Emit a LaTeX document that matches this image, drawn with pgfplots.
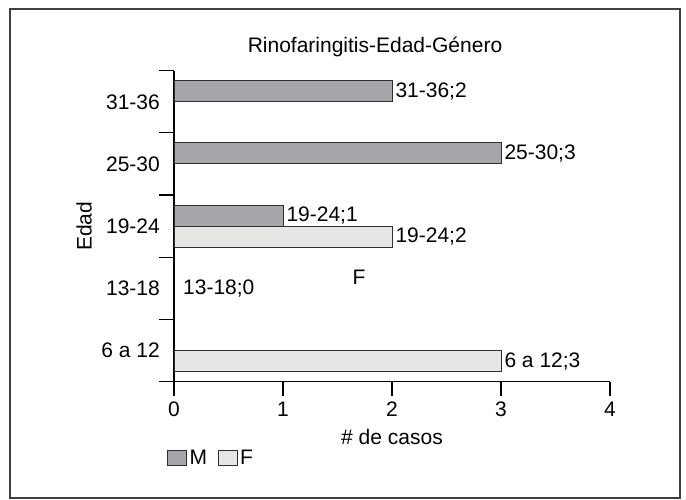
\documentclass[border=0pt]{standalone}
\usepackage{pgfplots}
\pgfplotsset{compat=1.18}
\usepackage{fontspec}
\setmainfont{Liberation Sans}
\definecolor{mcol}{HTML}{A6A7AB}
\definecolor{fcol}{HTML}{E6E7E5}
\definecolor{edge}{HTML}{2E2E2E}
\begin{document}
\begin{tikzpicture}[x=1pt,y=1pt,font=\fontsize{21}{25}\selectfont]
\useasboundingbox (0,0) rectangle (686,500);
\draw[line width=2pt, color=black!75] (10,1.5) rectangle (680,491);
\begin{axis}[
  at={(174pt,118.3pt)}, anchor=south west,
  width=436pt, height=311pt, scale only axis,
  clip=false,
  xbar, bar width=21pt,
  xmin=0, xmax=4, ymin=-0.5, ymax=4.5,
  axis x line*=bottom, axis y line*=left,
  axis line style={line width=1.2pt, black},
  /pgf/number format/assume math mode=true,
  xtick={0,1,2,3,4},
  ytick={0,1,2,3,4},
  yticklabels={6 a 12,13-18,19-24,25-30,31-36},
  minor ytick={-0.5,0.5,1.5,2.5,3.5,4.5},
  tick align=outside,
  major tick length=14pt,
  minor tick length=15pt,
  every tick/.style={line width=1.2pt, black},
  major y tick style={draw=none},
  yticklabel style={inner sep=0pt},
  xticklabel style={yshift=-3pt},
  every axis title shift=0pt,
  title={Rinofaringitis-Edad-Género},
  title style={at={(axis description cs:0.461,1.076)}, anchor=center},
  xlabel={\# de casos},
  xlabel style={at={(axis description cs:0.5,-0.178)}, anchor=center},
  ylabel={Edad},
  ylabel style={at={(axis description cs:-0.206,0.5)}, anchor=center},
  visualization depends on={x \as \xval},
  nodes near coords={\pgfplotspointmeta;\pgfmathprintnumber{\xval}},
  nodes near coords align={horizontal},
  point meta=explicit symbolic,
  every node near coord/.append style={anchor=west, inner sep=3pt, black},
  legend columns=2,
  legend style={draw=none, fill=none, at={(axis description cs:-0.016,-0.244)}, anchor=west, inner sep=0pt,
    nodes={inner sep=2.5pt},
    /tikz/every even column/.append style={column sep=8pt}},
  legend image code/.code={\draw[#1] (0pt,-7.5pt) rectangle (19pt,7.5pt);},
]
\addplot[fill=mcol, draw=edge, line width=1pt, bar shift=10.5pt]
  coordinates {(1,2) [19-24] (3,3) [25-30] (2,4) [31-36]};
\addplot[fill=fcol, draw=edge, line width=1pt, bar shift=-10.5pt]
  coordinates {(3,0) [6 a 12] (2,2) [19-24]};
\addplot[fill=none, draw=none, bar shift=0pt, forget plot,
  every node near coord/.append style={xshift=6pt}]
  coordinates {(0,1) [13-18]};
\legend{M,F}
\node at (axis cs:1.697,1.183) {F};
\end{axis}
\end{tikzpicture}
\end{document}
